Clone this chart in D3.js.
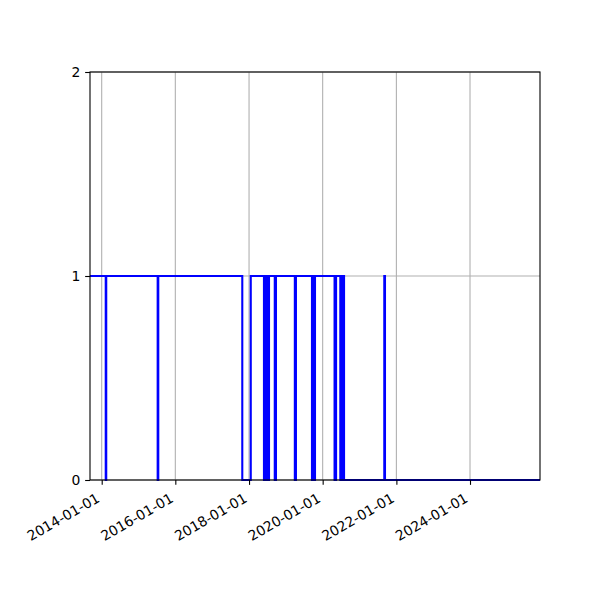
<!DOCTYPE html>
<html>
<head>
<meta charset="utf-8">
<script src="https://cdn.jsdelivr.net/npm/d3@7"></script>
<style>
  html, body { margin: 0; padding: 0; background: #fff; }
  svg { display: block; }
  text { font-family: "DejaVu Sans", sans-serif; font-size: 13.9px; fill: #000; }
</style>
</head>
<body>
<svg id="chart" width="600" height="600"></svg>
<script>
// Step series: value holds from each date until the next one
const stepDates = [
  "2013-09-07",
  "2014-02-10", "2014-02-15",
  "2015-07-10", "2015-07-16",
  "2017-10-26", "2018-01-18",
  "2018-05-29", "2018-06-06",
  "2018-06-14", "2018-06-22",
  "2018-06-30", "2018-07-08",
  "2018-07-12", "2018-07-18",
  "2018-09-13", "2018-09-25",
  "2019-03-31", "2019-04-11",
  "2019-09-17", "2019-09-24",
  "2019-10-07", "2019-10-17",
  "2020-04-28", "2020-05-01",
  "2020-05-07", "2020-05-13",
  "2020-06-24", "2020-06-30",
  "2020-07-06", "2020-07-12",
  "2020-07-18", "2020-07-24",
  "2020-07-31",
  "2021-09-03", "2021-09-10",
  "2025-11-25"
];
const stepValues = [
  1,
  0, 1,
  0, 1,
  0, 1,
  0, 1,
  0, 1,
  0, 1,
  0, 1,
  0, 1,
  0, 1,
  0, 1,
  0, 1,
  0, 1,
  0, 1,
  0, 1,
  0, 1,
  0, 1,
  0,
  1, 0,
  0
];
const xTickLabels = ["2014-01-01", "2016-01-01", "2018-01-01", "2020-01-01", "2022-01-01", "2024-01-01"];
const yTicks = [0, 1, 2];

const parse = d3.utcParse("%Y-%m-%d");
const data = stepDates.map((d, i) => ({ date: parse(d), value: stepValues[i] }));

const mLeft = 90, mRight = 540, mTop = 72, mBottom = 480;
const svg = d3.select("#chart");

const x = d3.scaleUtc()
  .domain([parse(stepDates[0]), parse(stepDates[stepDates.length - 1])])
  .range([mLeft, mRight]);
const y = d3.scaleLinear().domain([0, 2]).range([mBottom, mTop]);

const xTicks = xTickLabels.map(parse);

// grid
const grid = svg.append("g");
grid.selectAll("line.gx").data(xTicks).join("line")
  .attr("class", "gx")
  .attr("x1", d => x(d)).attr("x2", d => x(d))
  .attr("y1", mTop).attr("y2", mBottom)
  .attr("stroke", "#b0b0b0").attr("stroke-width", 1.1);
grid.selectAll("line.gy").data(yTicks).join("line")
  .attr("class", "gy")
  .attr("x1", mLeft).attr("x2", mRight)
  .attr("y1", d => y(d)).attr("y2", d => y(d))
  .attr("stroke", "#b0b0b0").attr("stroke-width", 1.1);

// series
const line = d3.line()
  .x(d => x(d.date))
  .y(d => y(d.value))
  .curve(d3.curveStepAfter);
svg.append("path")
  .datum(data)
  .attr("d", line)
  .attr("fill", "none")
  .attr("stroke", "#0000ff")
  .attr("stroke-width", 2.08)
  .attr("stroke-linejoin", "miter");

// axes
const xAxis = d3.axisBottom(x)
  .tickValues(xTicks)
  .tickSize(4.86)
  .tickPadding(4.86)
  .tickFormat((d, i) => xTickLabels[i]);
const gx = svg.append("g").attr("transform", `translate(0,${mBottom})`).call(xAxis);
gx.select(".domain").remove();
gx.selectAll(".tick line").attr("stroke", "#000").attr("stroke-width", 1.1);
gx.selectAll(".tick text")
  .attr("text-anchor", "end")
  .attr("y", null).attr("dy", null)
  .attr("transform", "translate(-1.5,21) rotate(-30)")
  .style("font-family", "DejaVu Sans, sans-serif")
  .style("font-size", "13.9px");

const yAxis = d3.axisLeft(y)
  .tickValues(yTicks)
  .tickSize(4.86)
  .tickPadding(4.86)
  .tickFormat(d3.format("d"));
const gy = svg.append("g").attr("transform", `translate(${mLeft},0)`).call(yAxis);
gy.select(".domain").remove();
gy.selectAll(".tick line").attr("stroke", "#000").attr("stroke-width", 1.1);
gy.selectAll(".tick text")
  .style("font-family", "DejaVu Sans, sans-serif")
  .style("font-size", "13.9px");

// spines
svg.append("rect")
  .attr("x", mLeft).attr("y", mTop)
  .attr("width", mRight - mLeft).attr("height", mBottom - mTop)
  .attr("fill", "none").attr("stroke", "#000").attr("stroke-width", 1.1);
</script>
</body>
</html>
